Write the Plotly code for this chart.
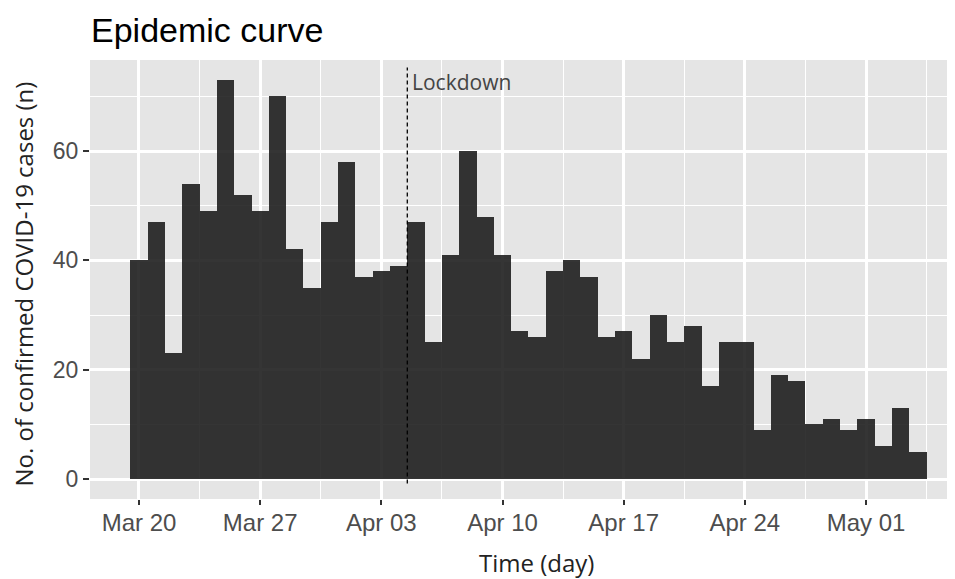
import plotly.graph_objects as go
import pandas as pd

# Data
start_date = "2020-03-20"
cases = [40, 47, 23, 54, 49, 73, 52, 49, 70, 42, 35, 47, 58, 37, 38, 39,
         47, 25, 41, 60, 48, 41, 27, 26, 38, 40, 37, 26, 27, 22, 30, 25, 28,
         17, 25, 25, 9, 19, 18, 10, 11, 9, 11, 6, 13, 5]
dates = pd.date_range(start_date, periods=len(cases), freq="D")
lockdown_date = "2020-04-04 12:00"
lockdown_label = "Lockdown"
x_tickvals = ["2020-03-20", "2020-03-27", "2020-04-03", "2020-04-10",
              "2020-04-17", "2020-04-24", "2020-05-01"]
x_ticktext = ["Mar 20", "Mar 27", "Apr 03", "Apr 10", "Apr 17", "Apr 24", "May 01"]
y_tickvals = [0, 20, 40, 60]

DAY_MS = 86400000

fig = go.Figure()
fig.add_trace(go.Bar(
    x=dates, y=cases, width=[DAY_MS] * len(cases),
    marker=dict(color="rgba(20,20,20,0.86)", line=dict(width=0)),
    showlegend=False,
))

fig.add_shape(type="line", xref="x", yref="y",
              x0=lockdown_date, x1=lockdown_date, y0=-0.8, y1=75.3,
              line=dict(color="black", width=1.3, dash="4px,3px"))
fig.add_annotation(x=lockdown_date, y=72.7, xref="x", yref="y",
                   text=lockdown_label, showarrow=False, xanchor="left",
                   yanchor="middle", xshift=3,
                   font=dict(family="Open Sans", size=21, color="#444444"))

# Title and axis titles as annotations
fig.add_annotation(x=0, y=1 + 52 / 439, xref="paper", yref="paper",
                   xanchor="left", yanchor="top", xshift=-1, yshift=-1,
                   showarrow=False, text="Epidemic curve",
                   font=dict(family="Liberation Sans", size=34, color="black"))
fig.add_annotation(x=0.5, y=0, xref="paper", yref="paper", xanchor="center",
                   yanchor="middle", yshift=-63, xshift=14, showarrow=False,
                   text="Time (day)",
                   font=dict(family="Open Sans", size=24, color="#222222"))
fig.add_annotation(x=0, y=0.5, xref="paper", yref="paper", xanchor="center",
                   yanchor="middle", xshift=-67, yshift=-5, showarrow=False,
                   textangle=-90, text="No. of confirmed COVID-19 cases (n)",
                   font=dict(family="Open Sans", size=24, color="#222222"))

fig.update_layout(
    width=947, height=571,
    margin=dict(l=82, r=0, t=52, b=80),
    paper_bgcolor="white", plot_bgcolor="#E5E5E5",
    bargap=0,
    font=dict(family="Liberation Sans", color="#4D4D4D"),
)
fig.update_xaxes(
    type="date",
    range=["2020-03-17 04:05", "2020-05-06 03:22"],
    tickvals=x_tickvals, ticktext=x_ticktext,
    tickfont=dict(size=24, color="#4D4D4D", family="Liberation Sans"),
    ticklabelstandoff=-3,
    showgrid=True, gridcolor="white", gridwidth=2.6,
    minor=dict(dtick=3.5 * DAY_MS, tick0="2020-03-20", showgrid=True,
               gridcolor="white", gridwidth=1.2, ticks=""),
    ticks="outside", ticklen=5, tickwidth=1.5, tickcolor="#333333",
    zeroline=False, showline=False,
)
fig.update_yaxes(
    range=[-3.65, 76.65],
    tickvals=y_tickvals,
    tickfont=dict(size=23, color="#4D4D4D", family="Liberation Sans"),
    showgrid=True, gridcolor="white", gridwidth=2.6,
    minor=dict(dtick=10, tick0=0, showgrid=True, gridcolor="white",
               gridwidth=1.2, ticks=""),
    ticks="outside", ticklen=6, tickwidth=1.5, tickcolor="#333333",
    zeroline=False, showline=False,
)

fig.write_html("out.html")
